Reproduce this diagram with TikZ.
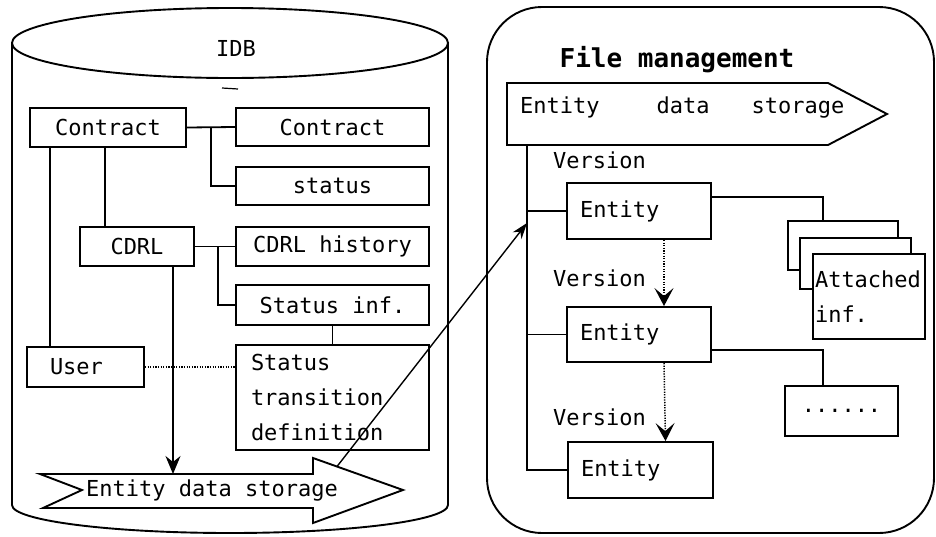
\documentclass[tikz,border=0pt]{standalone}
\usepackage{fontspec}
\newfontfamily\diagmono{DejaVu Sans Mono}
\usetikzlibrary{arrows.meta,calc}
\begin{document}
\begin{tikzpicture}[x=1pt,y=-1pt,
  every node/.style={font=\diagmono\fontsize{22}{35}\selectfont},
  box/.style={draw, line width=1.9pt, fill=white, inner sep=0pt},
  lbl/.style={inner sep=0pt},
  outline/.style={line width=1.9pt},
  conn/.style={line width=1.8pt},
  dotconn/.style={dash pattern=on 1.3pt off 1.3pt, line width=1.5pt},
  tipA/.style={-{Stealth[length=18pt,width=15pt,inset=6pt]}},
  tipB/.style={-{Stealth[length=18pt,width=19pt,inset=8pt]}},
  tipC/.style={-{Stealth[length=16pt,width=11pt,inset=5pt]}}]
\useasboundingbox (0,0) rectangle (936,536);

% ---------------- IDB cylinder ----------------
\draw[outline] (12,43) -- (12,505) arc[start angle=180,end angle=0,x radius=218,y radius=28] -- (448,43);
\draw[outline] (230,43) ellipse[x radius=218,y radius=35];
\node[lbl] (idb) at (236,48) {IDB};
\draw[line width=1.2pt] (222,88) -- (238,89);

% boxes
\node[box, minimum width=156pt, minimum height=39pt] (c1) at (108,127.5) {Contract};
\node[box, minimum width=193pt, minimum height=38pt] (c2) at (332.5,127) {Contract};
\node[box, minimum width=193pt, minimum height=38pt] (st) at (332.5,186) {status};
\node[box, minimum width=114pt, minimum height=39pt] (cd) at (137,246.5) {CDRL};
\node[box, minimum width=193pt, minimum height=39pt] (ch) at (332.5,246.5) {CDRL history};
\node[box, minimum width=193pt, minimum height=40pt] (si) at (332.5,305) {Status inf.};
\node[box, minimum width=117pt, minimum height=40pt, text width=71pt, inner xsep=23pt, align=left] (u) at (85.5,367) {User};
\node[box, minimum width=193pt, minimum height=105pt, text width=163pt, inner xsep=15pt, align=left] (stt) at (332.5,397.5) {Status\\transition\\definition};

% big arrow
\draw[outline] (40,474) -- (313,474) -- (313,458) -- (403,490) -- (313,523) -- (313,508) -- (43,508) -- (82,490) -- cycle;
\node[lbl, anchor=west] (eds1) at (86,490) {Entity data storage};
\coordinate (ah) at (337,466.5);
\coordinate (ain) at (173,474);

% connectors IDB
\draw[conn] (c1.east) -- (c2.west);
\draw[conn] ([xshift=24pt]c1.east) |- (st.west);
\draw[conn] ([xshift=-58pt]c1.south) -- ([xshift=-58pt]c1.south |- u.north);
\draw[conn] ([xshift=-3pt]c1.south) -- ([xshift=-3pt]c1.south |- cd.north);
\draw[conn] (cd.east) -- (ch.west);
\draw[conn] ([xshift=23pt]cd.east) |- (si.west);
\draw[conn] (si.south) -- (stt.north);
\draw[dotconn, line width=1.2pt] (u.east) -- (u.east -| stt.west);
\draw[conn, tipA] ([xshift=36pt]cd.south) -- ([xshift=36pt]cd.south |- ain);

% ---------------- File management ----------------
\draw[outline, rounded corners=55pt] (487,7) rectangle (934,533);
\node[lbl, font=\diagmono\bfseries\fontsize{26}{30}\selectfont] (fm) at (677,60) {File management};
\draw[outline] (507,83) -- (828,83) -- (887,114) -- (828,145) -- (507,145) -- cycle;
\node[lbl, anchor=west] (eds2) at (520,108) {Entity\hspace{57pt}data\hspace{42pt}storage};
\coordinate (ft) at (527,145);

\node[lbl, anchor=west] (v1) at (553,160) {Version};
\node[lbl, anchor=west] (v2) at (553,278) {Version};
\node[lbl, anchor=west] (v3) at (553,417) {Version};

\node[box, minimum width=144pt, minimum height=56pt, text width=118pt, inner xsep=13pt, align=left] (e1) at (639,211) {Entity};
\node[box, minimum width=144pt, minimum height=55pt, text width=118pt, inner xsep=13pt, align=left] (e2) at (639,334.5) {Entity};
\node[box, minimum width=145pt, minimum height=56pt, text width=119pt, inner xsep=13pt, align=left] (e3) at (640.5,470) {Entity};

\draw[conn] (ft) -- (ft |- e3.west) -- (e3.west);
\draw[conn] (ft |- e1.west) -- (e1.west);
\draw[conn] (ft |- e2.west) -- (e2.west);

\draw[dotconn, tipB] ([xshift=25pt]e1.south) -- ([xshift=25pt]e2.north);
\draw[dotconn, tipB] ([xshift=25pt]e2.south) -- ([xshift=25pt]e3.north);

% attached pages
\node[box, minimum width=110pt, minimum height=49pt] (p1) at (843,245.5) {};
\node[box, minimum width=111pt, minimum height=51pt] (p2) at (855.5,263.5) {};
\node[box, minimum width=112pt, minimum height=85pt, text width=108pt, inner xsep=2pt, align=left] (p3) at (869,296.5) {Attached\\inf.};
\node[box, minimum width=113pt, minimum height=50pt] (dots) at (841.5,411) {......};

\draw[conn] ([yshift=14pt]e1.east) -| ([xshift=-20pt]p1.north);
\draw[conn] ([yshift=-15.5pt]e2.east) -| ([xshift=-18.5pt]dots.north);

% connector from IDB arrow to file management
\coordinate (tin) at (527,223);
\draw[line width=1.4pt, tipC] (ah) -- (tin);
\end{tikzpicture}
\end{document}
